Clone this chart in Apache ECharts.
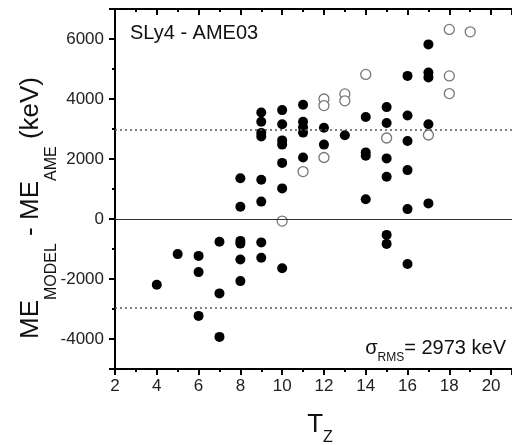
<!DOCTYPE html>
<html>
<head>
<meta charset="utf-8">
<script src="https://cdn.jsdelivr.net/npm/echarts@6/dist/echarts.min.js"></script>
<style>
html,body{margin:0;padding:0;background:#fff;}
#chart{width:512px;height:445px;}
</style>
</head>
<body>
<div id="chart"></div>
<script>
// Filled circles (T_Z, ME_MODEL - ME_AME in keV)
var filledTz   = [4, 5, 6, 6, 6, 7, 7, 7,
                  8, 8, 8, 8, 8, 8,
                  9, 9, 9, 9, 9, 9, 9, 9,
                  10, 10, 10, 10, 10, 10, 10,
                  11, 11, 11, 11, 11,
                  12, 12, 13,
                  14, 14, 14, 14,
                  15, 15, 15, 15, 15, 15,
                  16, 16, 16, 16, 16, 16,
                  17, 17, 17, 17, 17];
var filledDiff = [-2190, -1170, -1230, -1770, -3230, -760, -2480, -3930,
                  1360, 410, -730, -820, -1350, -2070,
                  3550, 3240, 2870, 2750, 1310, 580, -780, -1290,
                  3630, 3160, 2620, 2480, 1870, 1020, -1640,
                  3810, 3240, 3060, 2880, 2050,
                  3040, 2480, 2790,
                  3400, 2220, 2110, 660,
                  3730, 3200, 2020, 1410, -530, -830,
                  4770, 3450, 2600, 1630, 330, -1500,
                  5820, 4880, 4720, 3160, 520];
// Open circles
var openTz   = [10, 11, 12, 12, 12, 13, 13, 14, 15, 17, 18, 18, 18, 19];
var openDiff = [-70, 1580, 4000, 3780, 2050, 4170, 3940, 4820, 2700, 2800, 6320, 4770, 4180, 6240];

var rmsValue = 2973;
var modelLabel = 'SLy4 - AME03';
var xTicks = [2, 4, 6, 8, 10, 12, 14, 16, 18, 20];
var yTicks = [-4000, -2000, 0, 2000, 4000, 6000];

function zip(a, b) { return a.map(function (v, i) { return [v, b[i]]; }); }

var FONT = "'Liberation Sans', Arial, sans-serif";
var chart = echarts.init(document.getElementById('chart'), null, {renderer: 'canvas'});

function xAxisCfg(pos) {
  return {
    type: 'value', position: pos, min: 2, max: 21, interval: 2,
    axisLine: {show: true, onZero: false, lineStyle: {color: '#000', width: 2}},
    axisTick: {show: true, inside: pos === 'top', length: 6, lineStyle: {color: '#000', width: 2}},
    minorTick: {show: true, splitNumber: 2, length: 3, lineStyle: {color: '#000', width: 2}},
    splitLine: {show: false},
    axisLabel: {
      show: pos === 'bottom', fontSize: 17, color: '#222', fontFamily: FONT, margin: 9,
      showMaxLabel: false,
      formatter: function (v) { return xTicks.indexOf(v) >= 0 ? String(v) : ''; }
    }
  };
}

var option = {
  animation: false,
  backgroundColor: '#fff',
  grid: {left: 115, top: 9, width: 408.5, height: 360, containLabel: false},
  xAxis: [xAxisCfg('bottom'), xAxisCfg('top')],
  yAxis: {
    type: 'value', min: -5000, max: 7000, splitNumber: 6,
    axisLine: {show: true, onZero: false, lineStyle: {color: '#000', width: 2}},
    axisTick: {show: true, inside: false, length: 6, lineStyle: {color: '#000', width: 2}},
    minorTick: {show: true, splitNumber: 2, length: 3, lineStyle: {color: '#000', width: 2}},
    splitLine: {show: false},
    axisLabel: {
      fontSize: 17, color: '#222', fontFamily: FONT, margin: 11,
      showMinLabel: false, showMaxLabel: false,
      formatter: function (v) { return yTicks.indexOf(v) >= 0 ? String(v) : ''; }
    }
  },
  series: [
    {
      type: 'line', data: [], xAxisIndex: 0, yAxisIndex: 0, z: 1, silent: true,
      markLine: {
        silent: true, symbol: ['none', 'none'], label: {show: false},
        data: [
          {yAxis: rmsValue, lineStyle: {type: [2, 3], color: '#555', width: 1.5}},
          {yAxis: -rmsValue, lineStyle: {type: [2, 3], color: '#555', width: 1.5}},
          {yAxis: 0, lineStyle: {type: 'solid', color: '#333', width: 1}}
        ]
      }
    },
    {
      type: 'scatter', name: 'open', z: 3, xAxisIndex: 0,
      data: zip(openTz, openDiff), symbol: 'circle', symbolSize: 10,
      itemStyle: {color: '#fff', borderColor: '#777', borderWidth: 1.3, opacity: 1}
    },
    {
      type: 'scatter', name: 'filled', z: 4, xAxisIndex: 0,
      data: zip(filledTz, filledDiff), symbol: 'circle', symbolSize: 10,
      itemStyle: {color: '#000', opacity: 1}
    }
  ],
  graphic: [
    {
      type: 'text', x: 130, y: 23, z: 10,
      style: {text: modelLabel, font: '20px ' + FONT, fill: '#111', textAlign: 'left', textVerticalAlign: 'top'}
    },
    {
      type: 'text', x: 506, y: 348, z: 10,
      style: {
        text: '{b|\u03c3}{s|RMS}{b|= ' + rmsValue + ' keV}',
        textAlign: 'right', textVerticalAlign: 'middle', fill: '#111',
        rich: {
          b: {fontSize: 20, fontFamily: FONT, lineHeight: 32, fill: '#111'},
          s: {fontSize: 12, fontFamily: FONT, height: 12, verticalAlign: 'bottom', fill: '#111'}
        }
      }
    },
    {
      type: 'text', x: 31, y: 208, rotation: Math.PI / 2, z: 10,
      style: {
        text: '{b|ME}{s|MODEL}{b| - ME}{s|AME}{b| (keV)}',
        textAlign: 'center', textVerticalAlign: 'middle', fill: '#111',
        rich: {
          b: {fontSize: 26, fontFamily: FONT, lineHeight: 57, fill: '#111'},
          s: {fontSize: 16, fontFamily: FONT, height: 16, verticalAlign: 'bottom', fill: '#111'}
        }
      }
    },
    {
      type: 'text', x: 320, y: 425, z: 10,
      style: {
        text: '{b|T}{s|Z}',
        textAlign: 'center', textVerticalAlign: 'middle', fill: '#111',
        rich: {
          b: {fontSize: 26, fontFamily: FONT, lineHeight: 41, fill: '#111'},
          s: {fontSize: 16, fontFamily: FONT, height: 16, verticalAlign: 'bottom', fill: '#111'}
        }
      }
    }
  ]
};
chart.setOption(option);
</script>
</body>
</html>
